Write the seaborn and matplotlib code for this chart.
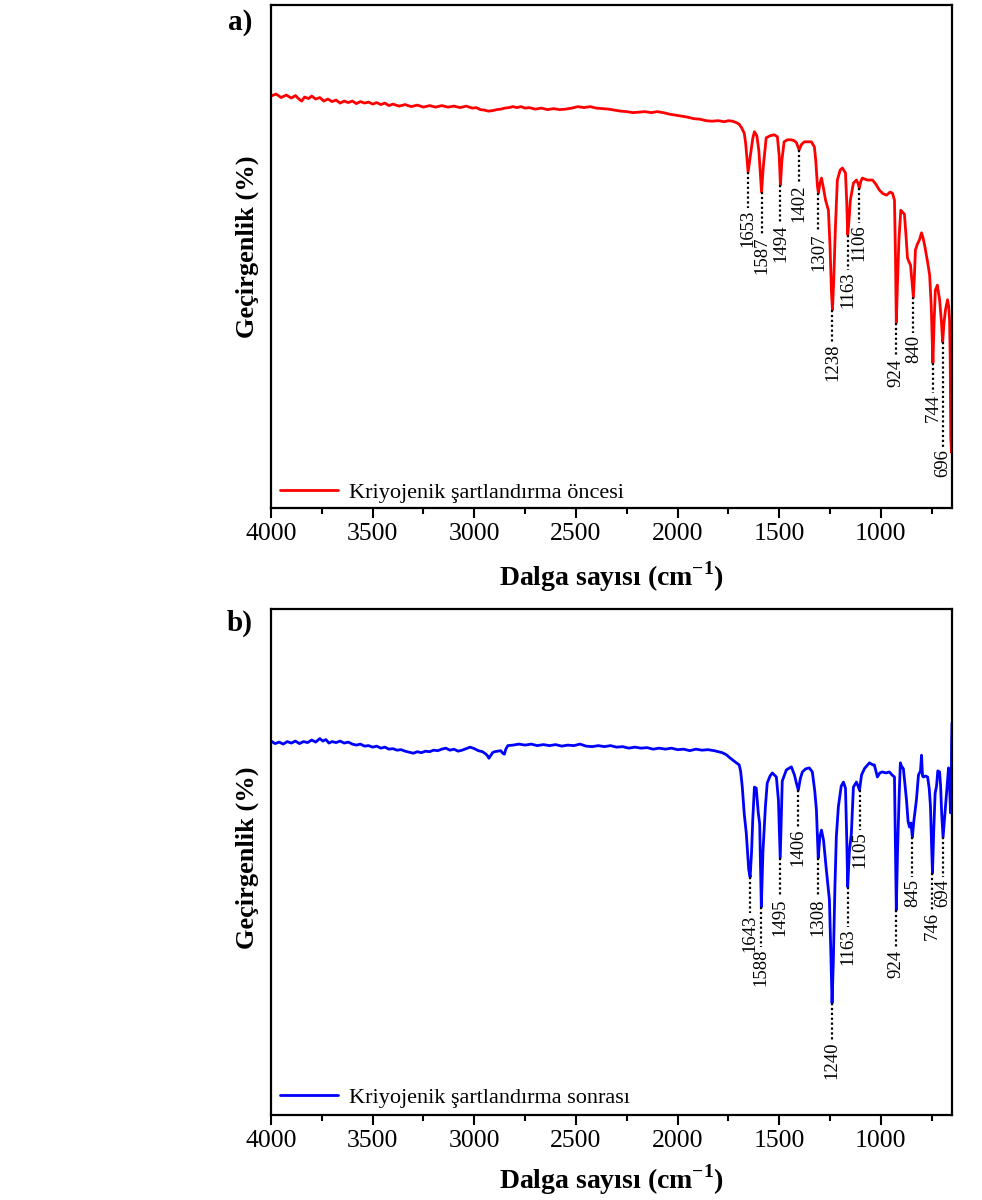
import numpy as np
import pandas as pd
import matplotlib
matplotlib.use("Agg")
import matplotlib.pyplot as plt
from matplotlib.ticker import MultipleLocator
import seaborn as sns

# ---------------- data ----------------
spectrum_before = [
    (4000, 81.9), (3975, 82.3), (3950, 81.6), (3925, 82.1), (3900, 81.5), (3880, 82.0),
    (3860, 81.2), (3849, 80.9), (3835, 81.7), (3815, 81.4), (3800, 81.9), (3780, 81.3),
    (3760, 81.6), (3740, 80.9), (3720, 81.3), (3700, 80.8), (3680, 81.1), (3660, 80.5),
    (3640, 80.9), (3620, 80.6), (3600, 80.9), (3580, 80.4), (3560, 80.8), (3540, 80.5),
    (3520, 80.7), (3500, 80.3), (3480, 80.6), (3460, 80.2), (3440, 80.5), (3420, 80.0),
    (3400, 80.3), (3370, 79.9), (3340, 80.2), (3310, 79.8), (3280, 80.1), (3250, 79.7),
    (3220, 80.0), (3190, 79.7), (3160, 80.0), (3130, 79.7), (3100, 79.9), (3070, 79.6),
    (3040, 79.9), (3010, 79.5), (2990, 79.6), (2970, 79.2), (2950, 79.1), (2930, 78.9),
    (2910, 79.0), (2890, 79.2), (2870, 79.3), (2850, 79.5), (2830, 79.6), (2810, 79.8),
    (2790, 79.6), (2770, 79.8), (2750, 79.5), (2730, 79.6), (2700, 79.3), (2670, 79.5),
    (2640, 79.2), (2610, 79.4), (2580, 79.2), (2550, 79.3), (2520, 79.5), (2490, 79.8),
    (2460, 79.6), (2430, 79.8), (2400, 79.5), (2370, 79.4), (2340, 79.3), (2310, 79.1),
    (2280, 78.9), (2250, 78.8), (2220, 78.6), (2190, 78.7), (2160, 78.8), (2130, 78.6),
    (2100, 78.8), (2070, 78.6), (2040, 78.3), (2010, 78.1), (1980, 77.9), (1950, 77.7),
    (1920, 77.4), (1890, 77.3), (1860, 77.0), (1830, 76.9), (1800, 77.0), (1770, 76.8),
    (1750, 77.0), (1730, 76.9), (1710, 76.6), (1697, 76.3), (1685, 75.6), (1672, 74.5),
    (1665, 72.5), (1653, 66.8), (1640, 70.5), (1630, 73.5), (1622, 74.8), (1610, 74.0),
    (1600, 71.0), (1587, 62.8), (1578, 68.0), (1564, 73.6), (1545, 74.0), (1524, 74.2),
    (1509, 73.8), (1500, 70.0), (1494, 64.2), (1487, 69.0), (1476, 72.8), (1460, 73.2),
    (1440, 73.2), (1425, 73.0), (1415, 72.6), (1402, 71.2), (1390, 72.3), (1376, 72.8),
    (1342, 72.8), (1327, 71.8), (1320, 69.0), (1312, 64.0), (1307, 62.6), (1300, 64.5),
    (1292, 65.6), (1282, 63.5), (1272, 61.2), (1258, 59.2), (1250, 52.0), (1243, 43.0),
    (1238, 39.4), (1232, 45.0), (1224, 55.3), (1214, 65.2), (1200, 67.2), (1189, 67.6),
    (1174, 66.6), (1168, 61.0), (1163, 54.3), (1157, 57.0), (1150, 61.2), (1135, 64.6),
    (1120, 65.2), (1112, 64.5), (1106, 63.6), (1098, 65.0), (1091, 65.6), (1080, 65.4),
    (1066, 65.2), (1041, 65.2), (1025, 64.4), (1007, 63.2), (990, 62.5), (972, 62.2),
    (955, 62.8), (943, 62.6), (933, 61.2), (928, 50.0), (924, 36.8), (918, 45.0),
    (911, 53.3), (902, 59.2), (893, 58.8), (884, 58.4), (876, 54.0), (869, 49.7),
    (860, 48.8), (854, 48.3), (847, 45.0), (840, 41.9), (835, 46.0), (830, 51.3),
    (820, 52.5), (810, 53.3), (800, 54.7), (793, 53.8), (785, 52.3), (770, 48.9),
    (760, 46.3), (752, 40.0), (744, 28.8), (738, 37.0), (732, 43.3), (722, 44.3),
    (711, 41.4), (702, 37.0), (696, 33.0), (689, 37.0), (682, 39.4), (672, 41.4),
    (666, 40.0), (662, 37.4), (659, 30.0), (656, 14.0), (652, 11.0), (650, 11.5),
]

spectrum_after = [
    (4000, 73.9), (3980, 73.4), (3960, 73.7), (3940, 73.3), (3920, 73.8), (3900, 73.5),
    (3880, 73.9), (3860, 73.4), (3840, 73.8), (3820, 73.6), (3800, 74.1), (3780, 73.7),
    (3760, 74.4), (3745, 73.9), (3730, 74.2), (3715, 73.5), (3700, 73.8), (3680, 73.6),
    (3660, 73.9), (3640, 73.5), (3620, 73.7), (3600, 73.3), (3580, 73.1), (3560, 73.3),
    (3540, 72.9), (3520, 73.0), (3500, 72.7), (3480, 72.9), (3460, 72.5), (3440, 72.7),
    (3420, 72.3), (3400, 72.4), (3380, 72.1), (3360, 72.2), (3340, 71.9), (3320, 71.7),
    (3300, 71.5), (3280, 71.8), (3260, 71.6), (3240, 71.9), (3220, 71.8), (3200, 72.1),
    (3180, 72.0), (3160, 72.3), (3140, 72.5), (3120, 72.1), (3100, 72.3), (3080, 71.9),
    (3060, 72.1), (3040, 72.4), (3020, 72.7), (3000, 72.4), (2980, 72.0), (2960, 71.8),
    (2945, 71.4), (2935, 71.0), (2928, 70.5), (2920, 71.0), (2910, 71.6), (2900, 71.8),
    (2885, 71.9), (2870, 72.0), (2860, 71.5), (2852, 71.3), (2845, 72.3), (2835, 73.0),
    (2810, 73.1), (2780, 73.3), (2750, 73.1), (2720, 73.3), (2690, 73.0), (2660, 73.2),
    (2630, 73.0), (2600, 73.2), (2570, 72.9), (2540, 73.1), (2510, 73.0), (2480, 73.3),
    (2450, 72.9), (2420, 72.8), (2390, 73.0), (2360, 72.8), (2330, 73.0), (2300, 72.7),
    (2270, 72.8), (2240, 72.5), (2210, 72.7), (2180, 72.5), (2150, 72.6), (2120, 72.3),
    (2090, 72.5), (2060, 72.3), (2030, 72.5), (2000, 72.2), (1970, 72.3), (1940, 72.0),
    (1910, 72.3), (1880, 72.1), (1850, 72.2), (1820, 72.0), (1800, 71.8), (1780, 71.6),
    (1760, 71.2), (1746, 70.7), (1730, 70.2), (1711, 69.6), (1697, 69.2), (1690, 68.0),
    (1682, 65.0), (1672, 59.5), (1662, 55.7), (1650, 48.5), (1643, 47.0), (1636, 52.0),
    (1630, 58.5), (1622, 64.8), (1613, 64.6), (1603, 59.7), (1596, 57.5), (1588, 41.1),
    (1580, 52.0), (1568, 60.9), (1559, 65.6), (1545, 67.0), (1534, 67.6), (1514, 66.8),
    (1504, 62.3), (1495, 50.8), (1489, 60.0), (1485, 66.0), (1465, 68.2), (1440, 68.8),
    (1425, 67.2), (1415, 65.5), (1406, 64.2), (1396, 66.5), (1386, 67.8), (1370, 68.4),
    (1352, 68.6), (1337, 67.8), (1325, 64.0), (1317, 60.3), (1308, 50.8), (1300, 55.0),
    (1292, 56.3), (1282, 54.3), (1268, 48.4), (1253, 42.5), (1246, 32.0), (1240, 22.1),
    (1234, 30.0), (1226, 45.0), (1219, 55.0), (1209, 60.9), (1195, 65.0), (1184, 65.8),
    (1174, 64.6), (1168, 55.0), (1163, 45.1), (1155, 52.0), (1145, 55.7), (1135, 64.8),
    (1120, 65.8), (1112, 65.0), (1105, 64.2), (1095, 67.2), (1080, 68.5), (1056, 69.6),
    (1040, 69.2), (1032, 69.2), (1017, 66.8), (1005, 67.6), (993, 67.8), (975, 67.6),
    (958, 67.8), (945, 67.2), (933, 66.8), (929, 55.0), (924, 40.5), (918, 52.0),
    (910, 63.0), (904, 69.6), (899, 69.0), (889, 68.4), (874, 62.3), (866, 58.0),
    (859, 56.9), (852, 57.7), (845, 54.9), (838, 58.0), (825, 62.3), (815, 67.2),
    (805, 68.0), (800, 71.1), (795, 67.0), (790, 66.8), (780, 67.0), (770, 66.8),
    (762, 64.5), (756, 61.0), (751, 54.0), (746, 47.8), (740, 56.0), (733, 63.6),
    (726, 65.0), (720, 68.0), (711, 67.8), (706, 65.0), (701, 59.7), (694, 54.9),
    (688, 58.0), (677, 63.6), (667, 68.6), (662, 65.0), (657, 59.7), (654, 62.0),
    (652, 73.5), (650, 77.5),
]

peaks_before = [1653, 1587, 1494, 1402, 1307, 1238, 1163, 1106, 924, 840, 744, 696]
label_end_before = [59.6, 54.3, 56.7, 64.6, 54.9, 33.0, 47.3, 56.7, 30.0, 34.8, 22.9, 12.1]

peaks_after = [1643, 1588, 1495, 1406, 1308, 1240, 1163, 1105, 924, 845, 746, 694]
label_end_after = [39.9, 33.2, 43.1, 56.9, 43.1, 14.8, 37.2, 56.3, 33.0, 47.0, 40.5, 47.0]

label_before = "Kriyojenik şartlandırma öncesi"
label_after = "Kriyojenik şartlandırma sonrası"
x_label = "Dalga sayısı (cm$^{\\mathbf{-1}}$)"
y_label = "Geçirgenlik (%)"
x_ticks = [4000, 3500, 3000, 2500, 2000, 1500, 1000]

# ---------------- style ----------------
sns.set_style("ticks")
plt.rcParams["font.family"] = ["Liberation Serif", "DejaVu Serif"]
plt.rcParams["mathtext.fontset"] = "custom"
plt.rcParams["mathtext.rm"] = "Liberation Serif"
plt.rcParams["mathtext.bf"] = "Liberation Serif:bold"
plt.rcParams["text.color"] = "black"
plt.rcParams["axes.labelcolor"] = "black"
plt.rcParams["xtick.color"] = "black"
plt.rcParams["ytick.color"] = "black"
plt.rcParams["axes.edgecolor"] = "black"

fig = plt.figure(figsize=(9.82, 12), dpi=100)
W, H = 982, 1200
ax1 = fig.add_axes([271 / W, 1 - 508 / H, 681 / W, 503 / H])
ax2 = fig.add_axes([271 / W, 1 - 1115 / H, 681 / W, 506 / H])


def draw_panel(ax, spec, color, label, peaks, ends, legend_y, xlabel_y):
    df = pd.DataFrame(spec, columns=["wn", "T"])
    sns.lineplot(data=df, x="wn", y="T", ax=ax, color=color, lw=2.0,
                 sort=False, estimator=None, label=label)
    ax.set_xlim(4000, 650)
    ax.set_ylim(0, 100)
    ax.set_xticks(x_ticks)
    ax.xaxis.set_minor_locator(MultipleLocator(250))
    ax.set_yticks([])
    ax.tick_params(axis="x", which="major", direction="out", length=7,
                   width=1.5, labelsize=18.5, pad=4, color="black",
                   labelcolor="black")
    ax.tick_params(axis="x", which="minor", direction="out", length=4,
                   width=1.5, color="black")
    for s in ax.spines.values():
        s.set_linewidth(1.6)
        s.set_color("black")
        s.set_visible(True)

    xs = df["wn"].values[::-1]
    ys = df["T"].values[::-1]
    for p, e in zip(peaks, ends):
        tp = np.interp(p, xs, ys)
        ax.plot([p, p], [tp, e], color="black", lw=1.6,
                linestyle=(0, (1, 1.2)))
        ax.text(p, e - 0.3, str(p), rotation=90, ha="center", va="top",
                fontsize=13.5, color="black")

    ax.set_xlabel(x_label, fontsize=20, fontweight="bold", color="black")
    ax.xaxis.set_label_coords(0.5, xlabel_y)
    ax.set_ylabel(y_label, fontsize=19, fontweight="bold", color="black")
    leg = ax.legend(loc="center left", bbox_to_anchor=(0.0, legend_y),
                    frameon=False, fontsize=16, handlelength=2.6,
                    handletextpad=0.5, borderaxespad=0.0)
    for t in leg.get_texts():
        t.set_color("black")
    for h in leg.get_lines():
        h.set_linewidth(2.0)


draw_panel(ax1, spectrum_before, "#ff0000", label_before, peaks_before,
           label_end_before, 0.030, -0.103)
draw_panel(ax2, spectrum_after, "#0000ff", label_after, peaks_after,
           label_end_after, 0.034, -0.093)
ax1.yaxis.set_label_coords(-0.017, 0.519)
ax2.yaxis.set_label_coords(-0.017, 0.508)

fig.text(240 / W, 1 - 22 / H, "a)", fontsize=21, fontweight="bold",
         ha="center", va="center", color="black")
fig.text(240 / W, 1 - 623 / H, "b)", fontsize=21, fontweight="bold",
         ha="center", va="center", color="black")

fig.savefig("out.png", dpi=100)
